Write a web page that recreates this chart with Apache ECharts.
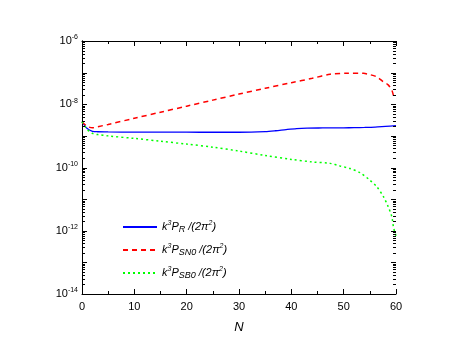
<!DOCTYPE html>
<html>
<head>
<meta charset="utf-8">
<script src="https://cdn.jsdelivr.net/npm/echarts@6/dist/echarts.min.js"></script>
<style>html,body{margin:0;padding:0;background:#fff}#c{width:460px;height:353px}</style>
</head>
<body>
<div id="c"></div>
<script>
// Data (x = N, y = power spectrum value)
const nR  = [0, 1, 2, 3, 5, 10, 15, 20, 25, 30, 35, 37, 39, 41, 43, 46, 50, 52, 54, 56, 58, 60];
const pR  = [2.8e-9, 1.7e-9, 1.4e-9, 1.35e-9, 1.33e-9, 1.32e-9, 1.32e-9, 1.31e-9, 1.3e-9, 1.3e-9, 1.36e-9, 1.45e-9, 1.58e-9, 1.7e-9, 1.76e-9, 1.78e-9, 1.8e-9, 1.82e-9, 1.85e-9, 1.9e-9, 2.0e-9, 2.1e-9];

const nSN = [0, 1, 2, 3, 5, 10, 15, 20, 25, 30, 35, 40, 44, 47.4, 50.6, 53.8, 54.7, 56.3, 57.6, 58.5, 59.2, 59.6, 60];
const pSN = [2.8e-9, 2.0e-9, 1.8e-9, 1.95e-9, 2.3e-9, 3.6e-9, 5.6e-9, 8.7e-9, 1.35e-8, 2.1e-8, 3.2e-8, 4.8e-8, 6.6e-8, 8.9e-8, 9.5e-8, 9.5e-8, 8.9e-8, 7.4e-8, 5.1e-8, 4.1e-8, 2.8e-8, 1.75e-8, 1.5e-8];

const nSB = [0, 1, 2, 3, 5, 10, 15, 20, 25, 30, 35, 40, 44, 47.4, 49.3, 51.2, 53.1, 55, 56.3, 57.6, 58.5, 59.2, 59.5, 59.8, 60];
const pSB = [2.8e-9, 1.6e-9, 1.2e-9, 1.1e-9, 1.0e-9, 8.3e-10, 6.8e-10, 5.5e-10, 4.4e-10, 3.3e-10, 2.4e-10, 1.8e-10, 1.5e-10, 1.35e-10, 1.12e-10, 9.3e-11, 6.9e-11, 4.0e-11, 2.5e-11, 1.2e-11, 5.8e-12, 2.8e-12, 1.35e-12, 8.7e-13, 7e-13];

const seriesNames = ['R', 'SN0', 'SB0'];

function pairs(xs, ys) { return xs.map((x, i) => [x, ys[i]]); }

const FONT = 'Liberation Sans, Arial, sans-serif';
const black = '#000';

const yAxisLeft = {
  type: 'log', logBase: 10, min: 1e-14, max: 1e-6, interval: 2, position: 'left',
  axisLine: { show: true, lineStyle: { color: black, width: 1 } },
  axisTick: { show: false },
  minorTick: { show: false },
  splitLine: { show: false },
  axisLabel: {
    show: true, color: black, fontFamily: FONT, fontSize: 11, margin: 4,
    formatter: function (v) { const e = Math.round(Math.log10(v)); return '{b|10}{s|' + e + '}'; },
    rich: { b: { fontSize: 11, fontFamily: FONT, color: black }, s: { fontSize: 7, fontFamily: FONT, color: black, verticalAlign: 'top', padding: [0, 0, 7, 0] } }
  }
};
// right frame line only
const yAxisRight = {
  type: 'value', min: 0, max: 1, position: 'right',
  axisLine: { show: true, lineStyle: { color: black, width: 1 } },
  axisTick: { show: false }, axisLabel: { show: false }, splitLine: { show: false }
};

function xAxisBase(pos, withLabels) {
  return {
    type: 'value', min: 0, max: 60, interval: 10, position: pos,
    axisLine: { show: true, onZero: false, lineStyle: { color: black, width: 1 } },
    axisTick: { show: true, inside: true, length: 5, lineStyle: { color: black, width: 1 } },
    minorTick: { show: true, splitNumber: 2, length: 3, lineStyle: { color: black, width: 1 } },
    splitLine: { show: false },
    axisLabel: withLabels ? { show: true, color: black, fontFamily: FONT, fontSize: 11, margin: 7 } : { show: false },
    name: withLabels ? 'N' : '', nameLocation: 'middle', nameGap: 27,
    nameTextStyle: { fontFamily: FONT, fontSize: 13, fontStyle: 'italic', color: black }
  };
}

const chart = echarts.init(document.getElementById('c'), null, { renderer: 'canvas' });
const legendRich = {
  i: { fontFamily: FONT, fontSize: 11, fontStyle: 'italic', color: black },
  sup: { fontFamily: FONT, fontSize: 7, fontStyle: 'italic', color: black, verticalAlign: 'top', padding: [0, 0, 6, 0] },
  sub: { fontFamily: FONT, fontSize: 9, fontStyle: 'italic', color: black, verticalAlign: 'bottom', padding: [5, 0, 0, 0] }
};
chart.setOption({
  animation: false,
  backgroundColor: '#fff',
  grid: { left: 82, right: 64, top: 41, bottom: 59 },
  xAxis: [xAxisBase('bottom', true), xAxisBase('top', false)],
  yAxis: [yAxisLeft, yAxisRight],
  legend: {
    orient: 'vertical', left: 122, top: 220, padding: 0, itemWidth: 34, itemHeight: 10, itemGap: 9,
    data: seriesNames,
    itemStyle: { opacity: 0 },
    formatter: function (name) { return '{i|k}{sup|3}{i|P}{sub|' + name + '}{i| /(2π}{sup|2}{i|)}'; },
    textStyle: { rich: legendRich }
  },
  series: [
    { name: 'R', type: 'line', xAxisIndex: 0, yAxisIndex: 0, data: pairs(nR, pR), symbol: 'none', smooth: 0.3, lineStyle: { color: '#0000ff', width: 1.3, type: 'solid' }, itemStyle: { color: '#0000ff' } },
    { name: 'SN0', type: 'line', xAxisIndex: 0, yAxisIndex: 0, data: pairs(nSN, pSN), symbol: 'none', smooth: 0.3, lineStyle: { color: '#ff0000', width: 1.5, type: [5, 4] }, itemStyle: { color: '#ff0000' } },
    { name: 'SB0', type: 'line', xAxisIndex: 0, yAxisIndex: 0, data: pairs(nSB, pSB), symbol: 'none', smooth: 0.3, lineStyle: { color: '#00ff00', width: 1.5, type: [2, 3] }, itemStyle: { color: '#00ff00' } }
  ]
});

// y-axis log tick marks (decades long, 2..9 short), positioned through the axis scale
function toPx(x, v) {
  const finders = [{ seriesIndex: 0 }, { gridIndex: 0 }, { xAxisIndex: 0, yAxisIndex: 0 }];
  for (let i = 0; i < finders.length; i++) {
    try {
      const p = chart.convertToPixel(finders[i], [x, v]);
      if (p && isFinite(p[0]) && isFinite(p[1])) return p;
    } catch (e) {}
  }
  try {
    const px = chart.convertToPixel({ xAxisIndex: 0 }, x);
    const py = chart.convertToPixel({ yAxisIndex: 0 }, v);
    if (isFinite(px) && isFinite(py)) return [px, py];
  } catch (e) {}
  return null;
}
const tickEls = [];
for (let d = -14; d <= -6; d++) {
  const ks = d < -6 ? [1, 2, 3, 4, 5, 6, 7, 8, 9] : [1];
  ks.forEach(function (k) {
    const v = k * Math.pow(10, d);
    const len = k === 1 ? 5 : 3;
    const pl = toPx(0, v);
    const pr = toPx(60, v);
    if (!pl || !pr) return;
    const y = Math.round(pl[1]);
    tickEls.push({ type: 'rect', z: 100, silent: true, shape: { x: Math.round(pl[0]), y: y, width: len, height: 1 }, style: { fill: black } });
    tickEls.push({ type: 'rect', z: 100, silent: true, shape: { x: Math.round(pr[0]) - len, y: y, width: len, height: 1 }, style: { fill: black } });
  });
}
chart.setOption({ graphic: { elements: tickEls } });
</script>
</body>
</html>
